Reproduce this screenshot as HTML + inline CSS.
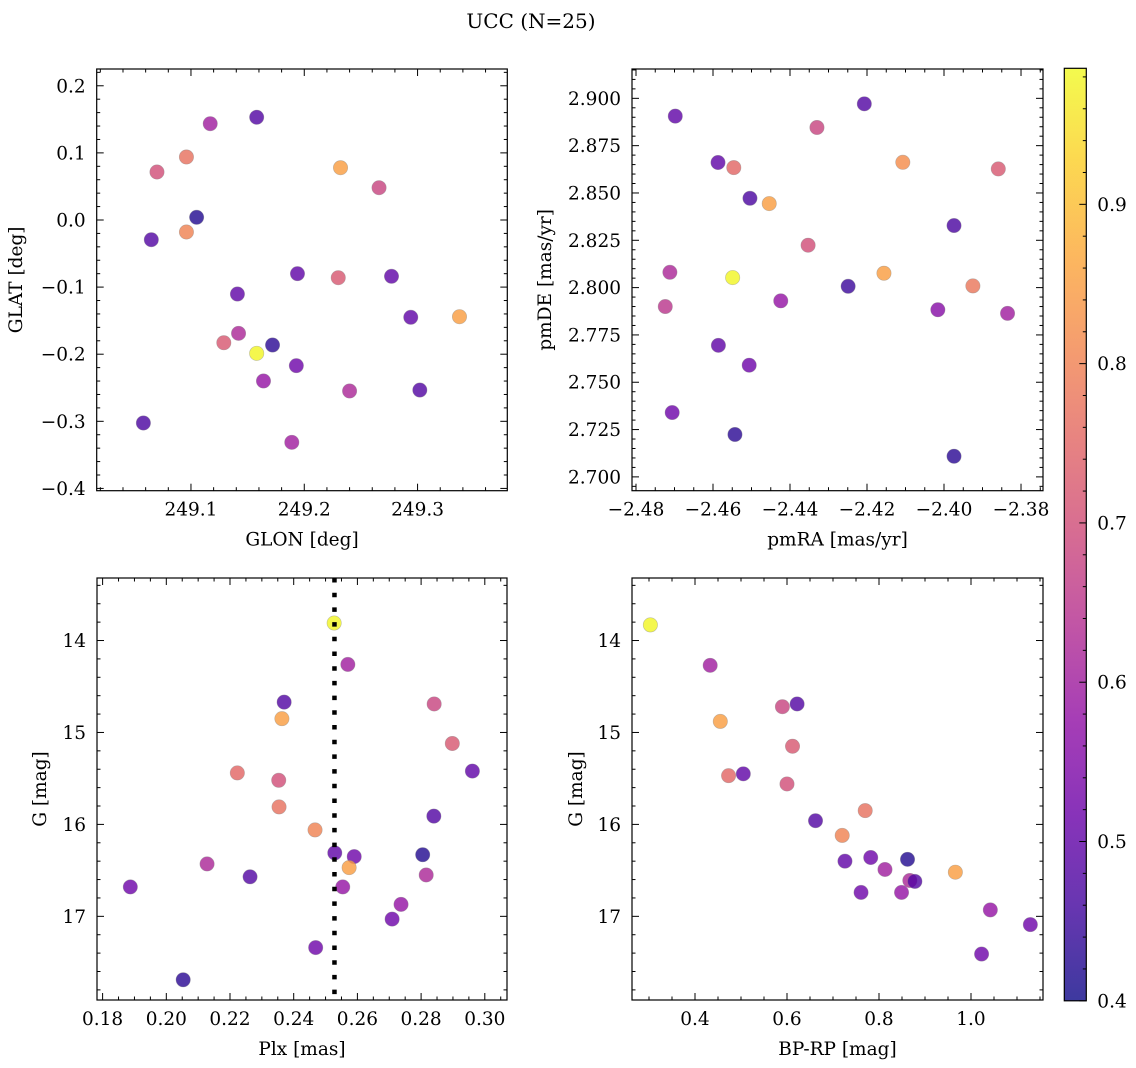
<!DOCTYPE html>
<html><head><meta charset="utf-8"><style>
html,body{margin:0;padding:0;background:#fff;}
svg{display:block;font-family:"DejaVu Serif","Liberation Serif",serif;}
</style></head><body>
<svg id="fig" width="1136" height="1068" viewBox="0 0 1136 1068" xmlns="http://www.w3.org/2000/svg">
<text x="531" y="28" font-size="20" text-anchor="middle">UCC (N=25)</text>
</svg>
<script>
// Panel 1: GLON / GLAT
const glon = [249.117,249.158,249.096,249.070,249.232,249.266,249.105,249.096,249.065,249.194,249.230,249.277,249.141,249.294,249.337,249.142,249.129,249.172,249.158,249.193,249.164,249.240,249.302,249.058,249.189];
const glat = [0.1435,0.1531,0.0939,0.0715,0.0779,0.0481,0.0040,-0.0179,-0.0294,-0.0800,-0.0860,-0.0839,-0.1103,-0.1450,-0.1441,-0.1689,-0.1829,-0.1863,-0.1987,-0.2171,-0.2399,-0.2548,-0.2534,-0.3025,-0.3313];
const prob1 = [0.60,0.48,0.77,0.70,0.85,0.68,0.42,0.80,0.48,0.50,0.72,0.50,0.50,0.50,0.85,0.62,0.72,0.43,0.98,0.52,0.58,0.62,0.48,0.47,0.60];
// Panel 2: pmRA / pmDE
const pmra = [-2.4698,-2.4207,-2.4330,-2.4587,-2.4546,-2.4107,-2.3859,-2.4504,-2.4454,-2.3974,-2.4353,-2.4712,-2.4549,-2.4156,-2.4249,-2.3925,-2.4424,-2.4724,-2.4016,-2.3835,-2.4586,-2.4506,-2.4706,-2.4543,-2.3974];
const pmde = [2.8906,2.8971,2.8846,2.8661,2.8634,2.8662,2.8627,2.8472,2.8444,2.8328,2.8224,2.8081,2.8053,2.8076,2.8007,2.8009,2.7930,2.7900,2.7883,2.7864,2.7695,2.7590,2.7340,2.7224,2.7109];
const prob2 = [0.50,0.48,0.68,0.50,0.75,0.82,0.72,0.47,0.85,0.47,0.70,0.62,0.98,0.85,0.45,0.78,0.58,0.65,0.56,0.60,0.50,0.52,0.52,0.43,0.43];
// Panel 3: Plx / G
const plx = [0.2527,0.2570,0.2370,0.2841,0.2363,0.2898,0.2961,0.2223,0.2353,0.2354,0.2840,0.2467,0.2529,0.2590,0.2574,0.2805,0.2128,0.2816,0.2263,0.1887,0.2554,0.2737,0.2709,0.2469,0.2053];
const gmag3 = [13.81,14.26,14.67,14.69,14.85,15.12,15.42,15.44,15.52,15.81,15.91,16.06,16.31,16.35,16.47,16.33,16.43,16.55,16.57,16.68,16.68,16.87,17.03,17.34,17.69];
const prob3 = [0.98,0.60,0.48,0.68,0.85,0.72,0.50,0.75,0.70,0.77,0.48,0.80,0.50,0.52,0.85,0.42,0.62,0.62,0.48,0.52,0.58,0.58,0.52,0.52,0.43];
const plxLine = 0.2528;
// Panel 4: BP-RP / G
const bprp = [0.303,0.433,0.590,0.622,0.455,0.612,0.473,0.505,0.600,0.662,0.770,0.720,0.726,0.782,0.862,0.813,0.867,0.878,0.966,0.761,0.849,1.042,1.129,1.023];
const gmag4 = [13.83,14.27,14.72,14.69,14.88,15.15,15.47,15.45,15.56,15.96,15.85,16.12,16.40,16.36,16.38,16.49,16.61,16.62,16.52,16.74,16.74,16.93,17.09,17.41];
const prob4 = [0.98,0.60,0.68,0.48,0.85,0.72,0.75,0.50,0.70,0.48,0.77,0.80,0.50,0.52,0.42,0.60,0.62,0.48,0.85,0.52,0.58,0.58,0.52,0.52];
// Tick labels
const ticks1x = [249.1,249.2,249.3], ticks1y = [0.2,0.1,0.0,-0.1,-0.2,-0.3,-0.4];
const ticks2x = [-2.48,-2.46,-2.44,-2.42,-2.40,-2.38], ticks2y = [2.700,2.725,2.750,2.775,2.800,2.825,2.850,2.875,2.900];
const ticks3x = [0.18,0.20,0.22,0.24,0.26,0.28,0.30], ticksGy = [14,15,16,17];
const ticks4x = [0.4,0.6,0.8,1.0];
const cbarTicks = [0.4,0.5,0.6,0.7,0.8,0.9];
const VMIN = 0.4, VMAX = 0.9854;

const NS = "http://www.w3.org/2000/svg";
const svg = document.getElementById('fig');
const FS = 18.5;
function mk(tag, attrs, parent){ const e=document.createElementNS(NS,tag); for(const k in attrs) e.setAttribute(k,attrs[k]); (parent||svg).appendChild(e); return e; }
const stops=[[13,8,135],[65,4,157],[106,0,168],[143,13,164],[177,42,144],[204,71,120],[225,100,98],[242,132,75],[252,166,54],[252,206,37],[240,249,33]];
function plasma(t){ t=Math.max(0,Math.min(1,t)); const f=t*10, i=Math.min(9,Math.floor(f)), r=f-i; const a=stops[i], b=stops[i+1]; return 'rgb('+a.map((v,k)=>Math.round(v+(b[k]-v)*r)).join(',')+')'; }
function cval(p){ return plasma((p-VMIN)/(VMAX-VMIN)); }
function fmt(v,d){ const s=Math.abs(v).toFixed(d); return (v<0?'\u2212':'')+s; }

function panel(o){
  const g = mk('g',{});
  
  
  const sx = v => o.x0 + (v-o.xmin)/(o.xmax-o.xmin)*(o.x1-o.x0);
  const sy = o.inv ? (v => o.y0 + (v-o.ymin)/(o.ymax-o.ymin)*(o.y1-o.y0)) : (v => o.y1 - (v-o.ymin)/(o.ymax-o.ymin)*(o.y1-o.y0));
  for(let i=0;i<o.xs.length;i++){
    const c = mk('circle',{cx:sx(o.xs[i]),cy:sy(o.ys[i]),r:7.2,fill:cval(o.cs[i]),'fill-opacity':0.8,stroke:'#888','stroke-opacity':0.5,'stroke-width':0.6},g);
    
    
  }
  if(o.vline!==undefined){
    const l = mk('line',{x1:sx(o.vline),x2:sx(o.vline),y1:o.y0,y2:o.y1,stroke:'#000','stroke-width':4.5,'stroke-dasharray':'4.5 10.2'},g);
    
    
  }
  const tg = mk('g',{stroke:'#000','stroke-width':1},g);
  const eps=1e-9;
  for(let v=Math.ceil(o.xmin/o.xminor-eps)*o.xminor; v<=o.xmax+eps; v+=o.xminor){
    const x=sx(v); const major = Math.abs(v/o.xmajor - Math.round(v/o.xmajor))<1e-6; const L=major?7:3.5;
    mk('line',{x1:x,x2:x,y1:o.y1,y2:o.y1-L},tg); mk('line',{x1:x,x2:x,y1:o.y0,y2:o.y0+L},tg);
  }
  for(let v=Math.ceil(o.ymin/o.yminor-eps)*o.yminor; v<=o.ymax+eps; v+=o.yminor){
    const y=sy(v); const major = Math.abs(v/o.ymajor - Math.round(v/o.ymajor))<1e-6; const L=major?7:3.5;
    mk('line',{x1:o.x0,x2:o.x0+L,y1:y,y2:y},tg); mk('line',{x1:o.x1,x2:o.x1-L,y1:y,y2:y},tg);
  }
  mk('rect',{x:o.x0,y:o.y0,width:o.x1-o.x0,height:o.y1-o.y0,fill:'none',stroke:'#000','stroke-width':1.2},g);
  o.xt.forEach(v=>{ const t=mk('text',{x:sx(v),y:o.y1+25,'font-size':FS,'text-anchor':'middle'},g); t.textContent=fmt(v,o.xd);
      });
  o.yt.forEach(v=>{ const t=mk('text',{x:o.x0-11,y:sy(v)+6.5,'font-size':FS,'text-anchor':'end'},g); t.textContent=fmt(v,o.yd);
      });
  const xl=mk('text',{x:(o.x0+o.x1)/2,y:o.y1+55,'font-size':FS,'text-anchor':'middle'},g); xl.textContent=o.xlabel;
   
  const yl=mk('text',{x:0,y:0,'font-size':FS,'text-anchor':'middle',transform:'translate('+o.ylx+','+((o.y0+o.y1)/2)+') rotate(-90)'},g); yl.textContent=o.ylabel;
   
}

panel({name:'glon-glat-panel',x0:96.7,x1:507.3,y0:69,y1:490.7,xmin:249.0168,xmax:249.3792,ymin:-0.4034,ymax:0.225,
  xs:glon,ys:glat,cs:prob1,xmajor:0.1,xminor:0.02,ymajor:0.1,yminor:0.02,xt:ticks1x,yt:ticks1y,xd:1,yd:1,xlabel:'GLON [deg]',ylabel:'GLAT [deg]',ylx:22});
panel({name:'proper-motion-panel',x0:632,x1:1043,y0:69,y1:490.7,xmin:-2.48104,xmax:-2.37429,ymin:2.6927,ymax:2.9155,
  xs:pmra,ys:pmde,cs:prob2,xmajor:0.02,xminor:0.005,ymajor:0.025,yminor:0.005,xt:ticks2x,yt:ticks2y,xd:2,yd:3,xlabel:'pmRA [mas/yr]',ylabel:'pmDE [mas/yr]',ylx:551});
panel({name:'parallax-magnitude-panel',x0:97,x1:507,y0:578,y1:1000,xmin:0.17824,xmax:0.30697,ymin:13.32,ymax:17.91,inv:true,
  xs:plx,ys:gmag3,cs:prob3,vline:plxLine,xmajor:0.02,xminor:0.005,ymajor:1,yminor:0.2,xt:ticks3x,yt:ticksGy,xd:2,yd:0,xlabel:'Plx [mas]',ylabel:'G [mag]',ylx:46});
panel({name:'color-magnitude-panel',x0:632,x1:1043,y0:578,y1:1000,xmin:0.26304,xmax:1.15652,ymin:13.32,ymax:17.91,inv:true,
  xs:bprp,ys:gmag4,cs:prob4,xmajor:0.2,xminor:0.05,ymajor:1,yminor:0.2,xt:ticks4x,yt:ticksGy,xd:1,yd:0,xlabel:'BP-RP [mag]',ylabel:'G [mag]',ylx:582});

(function(){
  const g=mk('g',{});
  
  
  const x0=1064.3,x1=1086.3,y0=68.3,y1=1000.8;
  const defs=mk('defs',{},g);
  const lg=mk('linearGradient',{id:'cb',x1:0,y1:1,x2:0,y2:0},defs);
  for(let k=0;k<=20;k++){ mk('stop',{offset:k/20,'stop-color':plasma(k/20),'stop-opacity':0.8},lg); }
  mk('rect',{x:x0,y:y0,width:x1-x0,height:y1-y0,fill:'url(#cb)'},g);
  const sy=v=>y1-(v-VMIN)/(VMAX-VMIN)*(y1-y0);
  for(let v=0.4; v<=VMAX+1e-9; v+=0.02){
    const major=Math.abs(v*10-Math.round(v*10))<1e-6; const y=sy(v);
    mk('line',{x1:x1,x2:x1-(major?7:3.5),y1:y,y2:y,stroke:'#000','stroke-width':1},g);
  }
  mk('rect',{x:x0,y:y0,width:x1-x0,height:y1-y0,fill:'none',stroke:'#000','stroke-width':1.2},g);
  cbarTicks.forEach(v=>{ const t=mk('text',{x:x1+11,y:sy(v)+6.5,'font-size':FS},g); t.textContent=v.toFixed(1);
      });
})();
</script>
</body></html>
